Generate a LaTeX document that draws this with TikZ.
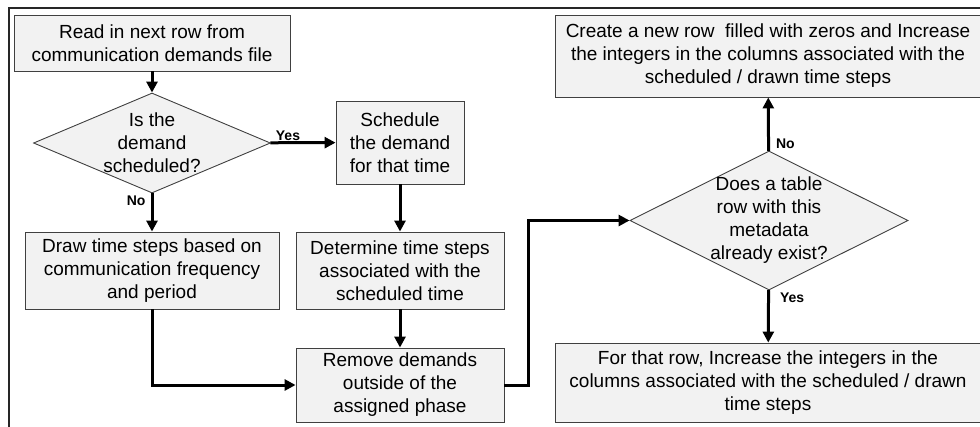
\documentclass[tikz,border=0pt]{standalone}
\usepackage{fontspec}
\setmainfont{Liberation Sans}
\usetikzlibrary{shapes.geometric,arrows.meta}
\definecolor{boxfill}{HTML}{F2F2F2}
\definecolor{boxline}{HTML}{404040}
\begin{document}
\begin{tikzpicture}[x=1pt,y=-1pt,
    every node/.style={font=\fontsize{19}{23}\selectfont, align=center, inner sep=0pt},
    stepbox/.style={draw=boxline, fill=boxfill, line width=0.9pt, rectangle},
    decision/.style={draw=boxline, fill=boxfill, line width=0.9pt, diamond},
    flow/.style={line width=3pt, -{Triangle[length=11pt,width=11pt]}},
    lbl/.style={font=\fontsize{14}{16}\bfseries\selectfont, inner sep=1pt}]
      \path[use as bounding box, clip] (0,0) rectangle (980,426);
      \draw[line width=1.6pt, draw=black!85] (9,440) |- (995,8);
      \node[stepbox, minimum width=276, minimum height=56] (read) at (152,43)
        {Read in next row from\\communication demands file};
      \node[decision, minimum width=237, minimum height=100,
        label={[align=center]center:Is the\\demand\\scheduled?}] (sched) at (152,143) {};
      \node[stepbox, minimum width=128, minimum height=83] (fix) at (400,142.5)
        {Schedule\\the demand\\for that time};
      \node[stepbox, minimum width=254, minimum height=77] (drawsteps) at (152,270.5)
        {Draw time steps based on\\communication frequency\\and period};
      \node[stepbox, minimum width=208, minimum height=77] (findsteps) at (400,270.5)
        {Determine time steps\\associated with the\\scheduled time};
      \node[stepbox, minimum width=208, minimum height=74] (remove) at (400,385)
        {Remove demands\\outside of the\\assigned phase};
      \node[decision, minimum width=278, minimum height=139,
        label={[align=center]center:Does a table\\row with this\\metadata\\already exist?}] (exists) at (769,220.5) {};
      \node[stepbox, minimum width=426, minimum height=82] (newrow) at (768,56)
        {Create a new row\ \ filled with zeros and Increase\\the integers in the columns associated with the\\scheduled / drawn time steps};
      \node[stepbox, minimum width=426, minimum height=79] (oldrow) at (768,382.5)
        {For that row, Increase the integers in the\\columns associated with the scheduled / drawn\\time steps};
      \draw[flow] (read) -- (sched);
      \draw[flow] (sched) -- node[lbl, pos=0, anchor=south west, xshift=3pt]{Yes} (fix);
      \draw[flow] (sched) -- node[lbl, pos=0, anchor=north east, xshift=-4pt]{No} (drawsteps);
      \draw[flow] (fix) -- (findsteps);
      \draw[flow] (findsteps) -- (remove);
      \draw[flow] (drawsteps) |- (remove);
      \draw[flow] (remove.east) -- ++(24,0) |- (exists);
      \draw[flow] (exists) -- node[lbl, pos=0, anchor=south west, xshift=5pt]{No} (newrow);
      \draw[flow] (exists) -- node[lbl, pos=0, anchor=north west, xshift=9pt]{Yes} (oldrow);
    \end{tikzpicture}
\end{document}
